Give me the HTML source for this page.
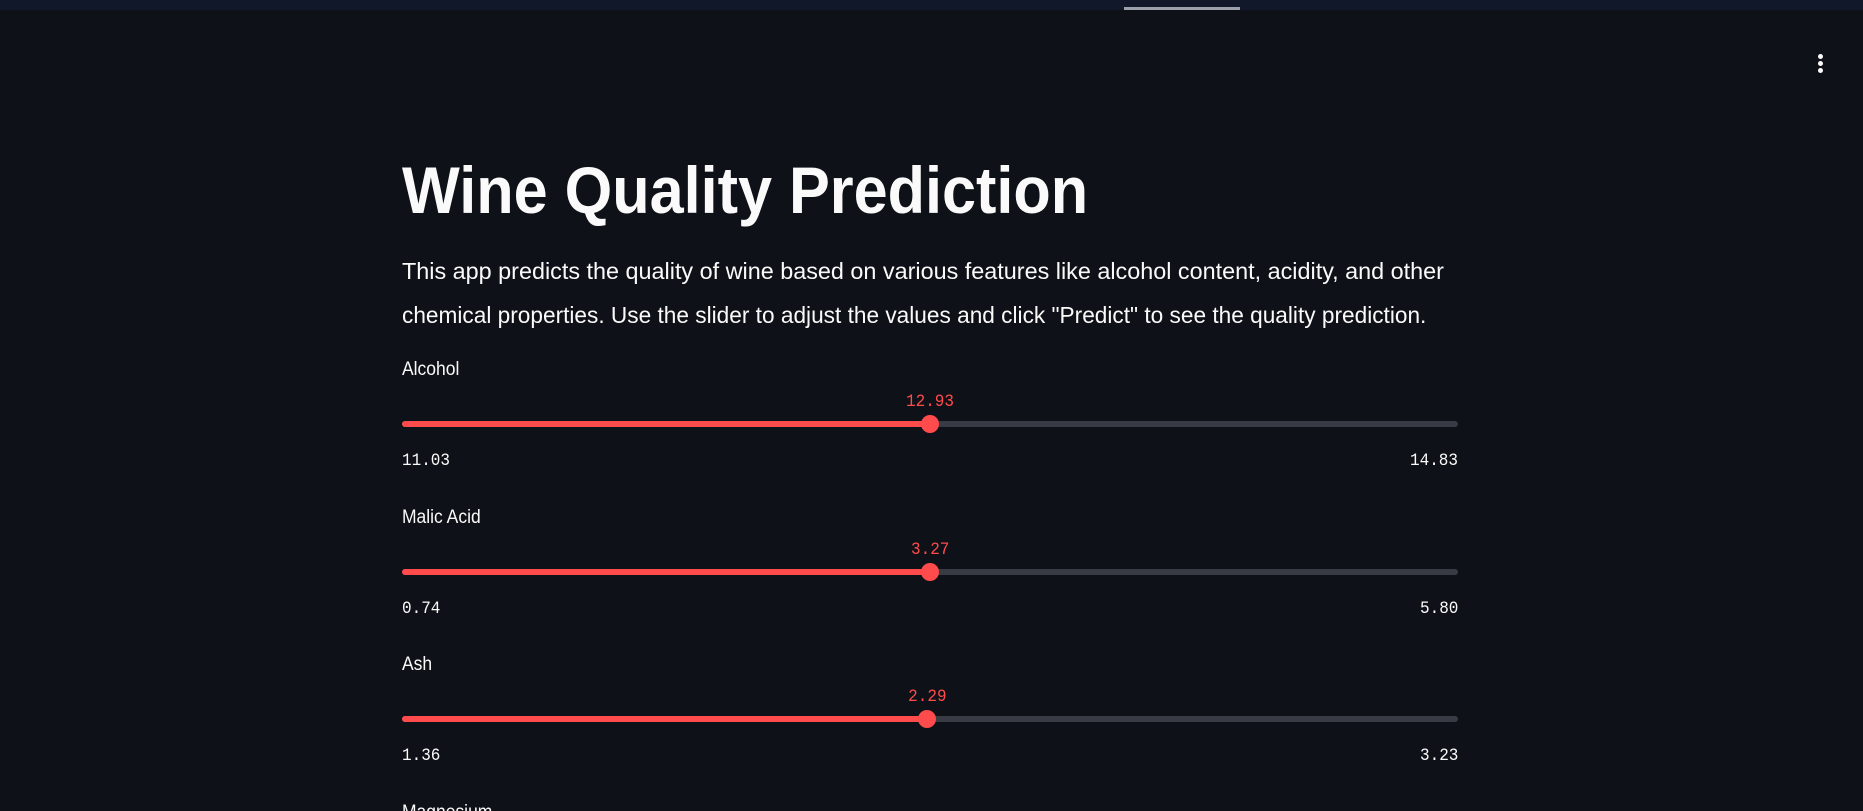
<!DOCTYPE html>
<html><head><meta charset="utf-8">
<style>
html,body{margin:0;padding:0;background:#0e1117;width:1863px;height:811px;overflow:hidden;font-family:"Liberation Sans",sans-serif;color:#fafafa}
#page{position:relative;width:1863px;height:811px;overflow:hidden;background:#0e1117}
#topbar{position:absolute;left:0;top:0;width:1863px;height:10px;background:#111829}
#tabind{position:absolute;left:1124px;top:7px;width:116px;height:3px;background:#9ca0ab}
#kebab{position:absolute;left:1817px;top:54px;width:8px;height:20px}
#kebab span{position:absolute;left:1px;width:5px;height:5px;border-radius:50%;background:#fafafa}
#title{position:absolute;left:402px;top:150px;font-size:66px;font-weight:bold;white-space:nowrap;transform:scaleX(0.8);transform-origin:left top;line-height:80px;margin:0}
.para{position:absolute;left:402px;font-size:23px;white-space:nowrap;transform-origin:left top;line-height:30px}
.lbl{position:absolute;left:402px;font-size:19px;white-space:nowrap;line-height:24px;transform:scaleX(0.92);transform-origin:left top}
.mono{position:absolute;font-family:"Liberation Mono",monospace;font-size:16px;line-height:22px;white-space:nowrap;transform-origin:center top;transform:scaleY(1.12)}
.track{position:absolute;left:402px;width:1056px;height:6px;border-radius:3px;background:#383a44}
.fill{position:absolute;left:0;top:0;height:6px;border-radius:3px;background:#ff4b4b}
.thumb{position:absolute;width:18px;height:18px;border-radius:50%;background:#ff4b4b;top:-6px;margin-left:-9px}
</style></head><body>
<div id="page">
<div id="topbar"></div>
<div id="tabind"></div>
<div id="kebab"><span style="top:0"></span><span style="top:7px"></span><span style="top:14px"></span></div>
<h1 id="title">Wine Quality Prediction</h1>
<div class="para" id="p1" style="top:256px">This app predicts the quality of wine based on various features like alcohol content, acidity, and other</div>
<div class="para" id="p2" style="top:300px">chemical properties. Use the slider to adjust the values and click "Predict" to see the quality prediction.</div>
<div id="sliders"></div>
</div>
<script>
const sliderLabels=["Alcohol","Malic Acid","Ash","Magnesium"];
const sliderMins=[11.03,0.74,1.36,70];
const sliderMaxs=[14.83,5.80,3.23,162];
const sliderValues=[12.93,3.27,2.29,116];
const sliderDecimals=[2,2,2,2];
(function(){
  ['p1','p2'].forEach(function(id,i){
    var el=document.getElementById(id);
    var target=i==0?1042:1024;
    el.style.transform='scaleX('+(target/el.scrollWidth)+')';
  });
  var t=document.getElementById('title');
  t.style.transform='scaleX('+(686/t.scrollWidth)+')';
  var root=document.getElementById('sliders');
  var x0=402,w=1056,gap=147.5;
  function xs(i,v){return (v-sliderMins[i])/(sliderMaxs[i]-sliderMins[i])*w;}
  sliderLabels.forEach(function(name,i){
    var base=i*gap;
    var slug=name.toLowerCase().replace(/\s+/g,'-');
    var l=document.createElement('div');l.className='lbl';
    
    
    l.style.top=(358+base)+'px';l.textContent=name;root.appendChild(l);
    var px=xs(i,sliderValues[i]);
    var v=document.createElement('div');v.className='mono';
    
    
    v.style.color='#ff4b4b';v.style.top=(389+base)+'px';
    v.textContent=sliderValues[i].toFixed(sliderDecimals[i]);root.appendChild(v);
    v.style.left=(x0+px-v.offsetWidth/2)+'px';
    var tr=document.createElement('div');tr.className='track';
    
    
    tr.style.top=(421+base)+'px';
    var f=document.createElement('div');f.className='fill';f.style.width=px+'px';
    
    
    var th=document.createElement('div');th.className='thumb';th.style.left=px+'px';
    
    
    tr.appendChild(f);tr.appendChild(th);root.appendChild(tr);
    var mn=document.createElement('div');mn.className='mono';
    
    
    mn.style.top=(448+base)+'px';mn.style.left=x0+'px';mn.style.color='#fafafa';
    mn.textContent=sliderMins[i].toFixed(sliderDecimals[i]);root.appendChild(mn);
    var mx=document.createElement('div');mx.className='mono';
    
    
    mx.style.top=(448+base)+'px';mx.style.color='#fafafa';
    mx.textContent=sliderMaxs[i].toFixed(sliderDecimals[i]);root.appendChild(mx);
    mx.style.left=(x0+w-mx.offsetWidth)+'px';
  });
})();
</script>
</body></html>
